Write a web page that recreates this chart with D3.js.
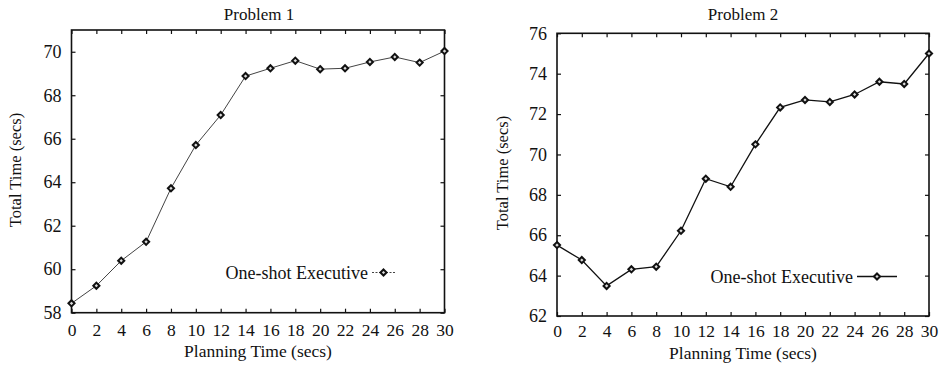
<!DOCTYPE html>
<html><head><meta charset="utf-8">
<script src="https://cdn.jsdelivr.net/npm/d3@7"></script>
<style>body{margin:0;background:#fff}svg{display:block}svg text{font-family:'Liberation Serif','DejaVu Serif',serif !important;fill:#111}</style>
</head><body><svg id="c" width="942" height="365"></svg>
<script>
const planningTime = [0,2,4,6,8,10,12,14,16,18,20,22,24,26,28,30];
const problem1Total = [58.43,59.24,60.39,61.26,63.72,65.71,67.09,68.88,69.24,69.59,69.2,69.24,69.53,69.76,69.5,70.03];
const problem2Total = [65.51,64.77,63.49,64.31,64.44,66.22,68.8,68.4,70.5,72.33,72.7,72.6,72.97,73.6,73.49,75.0];
const xTicks = [0,2,4,6,8,10,12,14,16,18,20,22,24,26,28,30];
const yTicks1 = [58,60,62,64,66,68,70];
const yTicks2 = [62,64,66,68,70,72,74,76];
const titles = ["Problem 1","Problem 2"];
const xTitle = "Planning Time (secs)";
const yTitle = "Total Time (secs)";
const legendLabel = "One-shot Executive";

const svg = d3.select("#c");
const panels = [
  {title:titles[0], data:problem1Total, yDomain:[58,71], yTicks:yTicks1,
   L:71.5, R:444.5, T:30, B:312.7, lineW:1, lineC:"#444", legX:368, legY:272.5, legLine:"dash",
   titleX:259, yTitleX:21, yTitleY:170, xPad:12, xTitleY:357},
  {title:titles[1], data:problem2Total, yDomain:[62,76], yTicks:yTicks2,
   L:557, R:929, T:33.3, B:316, lineW:1.3, lineC:"#111", legX:853, legY:276.5, legLine:"solid",
   titleX:743, yTitleX:508, yTitleY:173, xPad:9.5, xTitleY:358.5}
];

panels.forEach(p=>{
  const g = svg.append("g");
  const x = d3.scaleLinear().domain([0,30]).range([p.L,p.R]);
  const y = d3.scaleLinear().domain(p.yDomain).range([p.B,p.T]);
  const tk = 4;
  const ax = g.append("g").attr("transform",`translate(0,${p.B})`)
    .call(d3.axisBottom(x).tickValues(xTicks).tickSize(-tk).tickPadding(p.xPad).tickFormat(d3.format("d")));
  ax.select(".domain").remove();
  ax.selectAll("text").attr("font-size",17.5).attr("dy","0.66em");
  const axt = g.append("g").attr("transform",`translate(0,${p.T})`)
    .call(d3.axisTop(x).tickValues(xTicks).tickSize(-tk).tickFormat(""));
  axt.select(".domain").remove();
  const ay = g.append("g").attr("transform",`translate(${p.L},0)`)
    .call(d3.axisLeft(y).tickValues(p.yTicks).tickSize(-tk).tickPadding(10).tickFormat(d3.format("d")));
  ay.select(".domain").remove();
  ay.selectAll("text").attr("font-size",18);
  const ayr = g.append("g").attr("transform",`translate(${p.R},0)`)
    .call(d3.axisRight(y).tickValues(p.yTicks).tickSize(-tk).tickFormat(""));
  ayr.select(".domain").remove();
  g.selectAll(".tick line").attr("stroke","#111").attr("stroke-width",1.2);
  g.append("rect").attr("x",p.L).attr("y",p.T).attr("width",p.R-p.L).attr("height",p.B-p.T)
    .attr("fill","none").attr("stroke","#111").attr("stroke-width",1.6);
  const pts = planningTime.map((t,i)=>[t,p.data[i]]);
  g.append("path").datum(pts).attr("fill","none").attr("stroke",p.lineC).attr("stroke-width",p.lineW)
    .attr("d",d3.line().x(d=>x(d[0])).y(d=>y(d[1])));
  const sym = d3.symbol().type(d3.symbolDiamond2).size(24);
  g.selectAll(".m").data(pts).join("path").attr("class","m")
    .attr("transform",d=>`translate(${x(d[0])},${y(d[1])})`).attr("d",sym)
    .attr("fill","#ddd").attr("stroke","#111").attr("stroke-width",2);
  g.append("text").attr("x",p.titleX).attr("y",20).attr("text-anchor","middle").attr("font-size",17).text(p.title);
  g.append("text").attr("x",(p.L+p.R)/2).attr("y",p.xTitleY).attr("text-anchor","middle").attr("font-size",17.5).text(xTitle);
  g.append("text").attr("transform",`translate(${p.yTitleX},${p.yTitleY}) rotate(-90)`).attr("text-anchor","middle")
    .attr("font-size",16.5).text(yTitle);
  g.append("text").attr("x",p.legX).attr("y",p.legY+6).attr("text-anchor","end").attr("font-size",18).text(legendLabel);
  const lx0 = p.legX+4, lx1 = p.legX+ (p.legLine==="dash"?27:44);
  g.append("line").attr("x1",lx0).attr("x2",lx1).attr("y1",p.legY).attr("y2",p.legY)
    .attr("stroke",p.lineC).attr("stroke-width",p.lineW).attr("stroke-dasharray",p.legLine==="dash"?"2,1.5":null);
  g.append("path").attr("transform",`translate(${(lx0+lx1)/2},${p.legY})`).attr("d",sym)
    .attr("fill","#ddd").attr("stroke","#111").attr("stroke-width",2);
});
</script></body></html>
